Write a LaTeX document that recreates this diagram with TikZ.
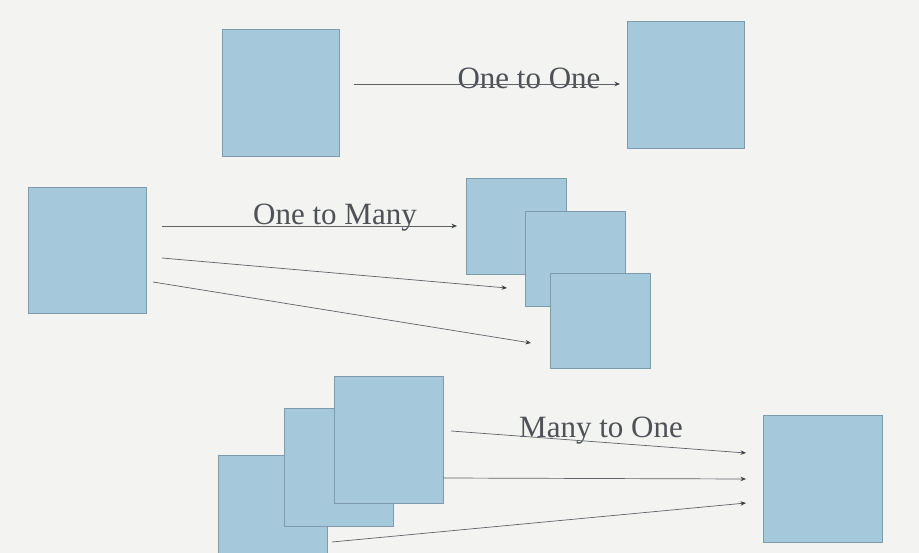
\documentclass[tikz,border=0pt]{standalone}
\usepackage{fontspec}
\setmainfont{Liberation Serif}
\usetikzlibrary{arrows.meta}
\definecolor{bgc}{HTML}{F3F3F2}
\definecolor{boxfill}{HTML}{A5C8DA}
\definecolor{boxline}{HTML}{7E9BAB}
\definecolor{linec}{HTML}{5E6266}
\definecolor{tipc}{HTML}{3E4246}
\definecolor{textc}{HTML}{4E5156}
\tikzset{
  box/.style={draw=boxline, fill=boxfill, line width=0.8pt, inner sep=0pt, rectangle},
  conn/.style={draw=linec, line width=0.7pt, -{Stealth[length=5.5pt,width=4.5pt,color=tipc]}},
  lbl/.style={text=textc, font=\fontsize{31}{36}\selectfont, anchor=base, inner sep=0pt}
}
\begin{document}
\begin{tikzpicture}[x=1pt,y=-1pt]
\useasboundingbox (0,0) rectangle (919,553);
\fill[bgc] (0,0) rectangle (919,553);
\begin{scope}
\clip (0,0) rectangle (919,553);
% boxes
\node[box, minimum width=117pt, minimum height=127pt] (A1) at (280.5,92.5) {};
\node[box, minimum width=117pt, minimum height=127pt] (B1) at (685.5,84.5) {};
\node[box, minimum width=118pt, minimum height=126pt] (A2) at (87,250) {};
\node[box, minimum width=100pt, minimum height=96pt] (C1) at (516,226) {};
\node[box, minimum width=100pt, minimum height=95pt] (C2) at (575,258.5) {};
\node[box, minimum width=100pt, minimum height=95pt] (C3) at (600,320.5) {};
\node[box, minimum width=109pt, minimum height=127pt] (D1) at (272.5,518.5) {};
\node[box, minimum width=109pt, minimum height=118pt] (D2) at (338.5,467) {};
\node[box, minimum width=109pt, minimum height=127pt] (D3) at (388.5,439.5) {};
\node[box, minimum width=119pt, minimum height=127pt] (E) at (822.5,478.5) {};
\end{scope}
% labels
\node[lbl] (L1) at (529,89) {One to One};
\node[lbl] (L2) at (335,225) {One to Many};
\node[lbl] (L3) at (601,437) {Many to One};
% connector end points
\coordinate (a1s) at (354,84);  \coordinate (a1e) at (620,84);
\coordinate (b1s) at (162,226); \coordinate (b1e) at (457,226);
\coordinate (b2s) at (162,258); \coordinate (b2e) at (507,288);
\coordinate (b3s) at (153,282); \coordinate (b3e) at (531,343);
\coordinate (c1s) at (451,431); \coordinate (c1e) at (746,453);
\coordinate (c2s) at (443,478); \coordinate (c2e) at (746,479);
\coordinate (c3s) at (332,542); \coordinate (c3e) at (746,503);
% connectors
\draw[conn] (a1s) -- (a1e);
\draw[conn] (b1s) -- (b1e);
\draw[conn] (b2s) -- (b2e);
\draw[conn] (b3s) -- (b3e);
\draw[conn] (c1s) -- (c1e);
\draw[conn] (c2s) -- (c2e);
\draw[conn] (c3s) -- (c3e);
\end{tikzpicture}
\end{document}
